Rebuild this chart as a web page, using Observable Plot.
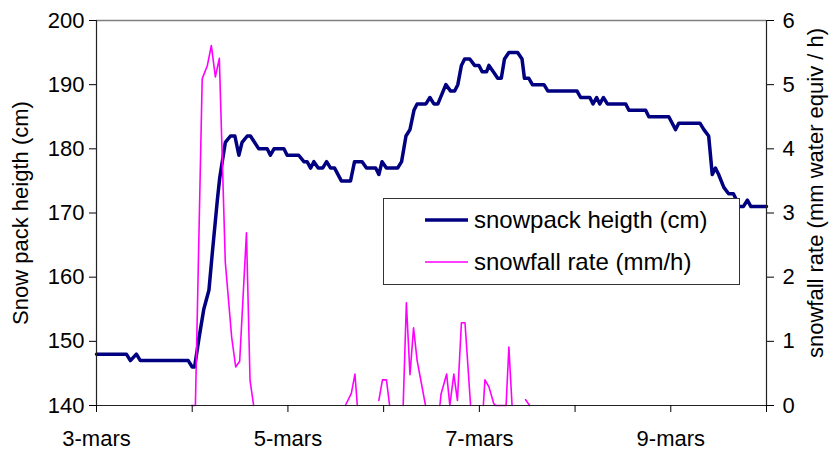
<!DOCTYPE html>
<html>
<head>
<meta charset="utf-8">
<script src="https://cdn.jsdelivr.net/npm/d3@7"></script>
<script src="https://cdn.jsdelivr.net/npm/@observablehq/plot@0.6"></script>
<style>
  html, body { margin: 0; padding: 0; background: white; }
  #wrap { position: relative; width: 833px; height: 453px; font-family: "Liberation Sans", Arial, sans-serif; }
  #legend { position: absolute; left: 383px; top: 198px; width: 355px; height: 85px; background: white; border: 1px solid #333; }
  #legend svg { position: absolute; left: 0; top: 0; }
</style>
</head>
<body>
<div id="wrap"></div>
<script>
// hours since 3-mars 00:00
const snowHours = [
  0, 7.5, 8.5, 10, 11, 23, 24, 24.6,
  25.7, 26.9, 28.2, 29, 30.3, 30.9, 32.3, 33.6, 34.7, 35.7, 36.5, 37.8, 38.6,
  40.7, 42.8, 43.6, 44.5, 47, 47.8, 50.7,
  52, 52.8, 53.7, 54.5, 55.6, 56.7, 57.7, 58.7, 59.7, 61.4, 63.7, 64.7, 66.6, 67.7, 70, 70.8, 71.6, 72.7, 75.5, 76.5,
  77.6, 78.6, 79.6, 80.4, 82.6, 83.6, 84.6, 85.6, 87.6, 88.8, 89.8, 90.6, 91.5, 92.3, 93.6, 94.8, 95.9, 96.7, 97.8, 98.4, 99.5, 100.6, 101.5, 102.3, 103.4, 105.6, 106.7, 107.3, 108.4, 109.3,
  112.2, 113.2, 120.5, 121.4, 123.7, 124.5, 125.4, 126.2, 127.1, 128.1, 132.7, 133.5, 137.7, 138.5, 143.5, 145.2, 146, 151.3, 152.3, 153.5,
  154.4, 155.2, 156, 157.3, 158.5, 159.7, 160.5, 161.1, 162.2, 163.2, 164.1, 168
];
const snowCm = [
  148, 148, 147, 148, 147, 147, 146, 146,
  150.5, 155, 158, 163.5, 172, 175.5, 181, 182, 182, 179, 181, 182, 182,
  180, 180, 179, 180, 180, 179, 179,
  178, 178, 177, 178, 177, 177, 178, 177, 177, 175, 175, 178, 178, 177, 177, 176, 178, 177, 177, 178,
  182, 183, 186, 187, 187, 188, 187, 187, 190, 189, 189, 190, 193, 194, 194, 193, 193, 192, 192, 193, 192, 191, 191, 194, 195, 195, 194, 191, 191, 190,
  190, 189, 189, 188, 188, 187, 188, 187, 188, 187, 187, 186, 186, 185, 185, 183, 184, 184, 183, 182,
  176, 177, 176, 174, 173, 173, 172, 171, 171, 172, 171, 171
];
const rateHours = [
  23.8, 24.8, 26.5, 27.8, 28.8, 29.8, 30.8, 32.3, 33.9, 34.9, 35.9, 37.6, 38.5, 39.4,
  50,
  62.4, 63.9, 64.8, 65.4,
  68,
  70.8, 71.7, 72.7, 73.5,
  75,
  76.9, 77.7, 78.6, 79.5, 80.4, 82.5,
  84,
  86.1, 86.4, 87.8, 88.6, 89.6, 90.5, 91.5, 92.4, 93.8,
  95,
  97.0, 97.4, 98.4, 99.6, 100.1, 102.7, 103.4, 104.2,
  106,
  107.6, 108.6
];
const rateMm = [
  0, 0, 5.09, 5.3, 5.61, 5.12, 5.41, 2.23, 1.06, 0.6, 0.69, 2.69, 0.39, 0,
  null,
  0, 0.19, 0.49, 0,
  null,
  0.08, 0.4, 0.4, 0,
  null,
  0, 1.6, 0.48, 1.21, 0.7, 0,
  null,
  0, 0.18, 0.49, 0, 0.49, 0.08, 1.29, 1.29, 0,
  null,
  0, 0.4, 0.29, 0.03, 0, 0, 0.91, 0,
  null,
  0.09, 0
];
const leftTicks = [140, 150, 160, 170, 180, 190, 200];
const rightTicks = [0, 1, 2, 3, 4, 5, 6];
const dayTicks = [0, 24, 48, 72, 96, 120, 144, 168];
const dayLabels = ["3-mars", "", "5-mars", "", "7-mars", "", "9-mars", ""];
const seriesNames = ["snowpack heigth (cm)", "snowfall rate (mm/h)"];
const leftTitle = "Snow pack heigth (cm)";
const rightTitle = "snowfall rate (mm water equiv / h)";

const toLeft = r => 140 + r * 10;
const snow = snowHours.map((h, i) => ({h, v: snowCm[i]}));
const rate = rateHours.map((h, i) => ({h, v: rateMm[i] == null ? NaN : toLeft(rateMm[i])}));

const chart = Plot.plot({
  width: 833, height: 453,
  marginLeft: 96, marginRight: 67, marginTop: 20, marginBottom: 48,
  style: {fontFamily: '"Liberation Sans", Arial, sans-serif', fontSize: "22px", color: "black", background: "white", overflow: "visible"},
  x: {domain: [0, 168]},
  y: {domain: [140, 200]},
  marks: [
    Plot.ruleY([200], {stroke: "#808080", strokeWidth: 1.5}),
    Plot.line(snow, {x: "h", y: "v", stroke: "#000080", strokeWidth: 3.5, strokeLinejoin: "round"}),
    Plot.line(rate, {x: "h", y: "v", stroke: "#FF00FF", strokeWidth: 1.6}),
    Plot.ruleX([0], {stroke: "#222", strokeWidth: 1.2}),
    Plot.ruleX([168], {stroke: "#222", strokeWidth: 1.2}),
    Plot.ruleY([140], {stroke: "#222", strokeWidth: 1.2}),
    Plot.axisY({anchor: "left", ticks: leftTicks, tickSize: 7, tickPadding: 5, label: null, fontSize: 22}),
    Plot.axisY({anchor: "right", ticks: rightTicks.map(toLeft), tickFormat: d => String((d - 140) / 10), tickSize: 7, tickPadding: 9, label: null, fontSize: 22}),
    Plot.axisX({ticks: dayTicks, tickFormat: d => dayLabels[dayTicks.indexOf(d)], tickSize: 7, tickPadding: 18, label: null, fontSize: 22}),
    Plot.text([leftTitle], {frameAnchor: "left", dx: -76, rotate: -90, fontSize: 22, textAnchor: "middle"}),
    Plot.text([rightTitle], {frameAnchor: "right", dx: 49, dy: -20, rotate: -90, fontSize: 22, textAnchor: "middle"})
  ]
});

const wrap = document.getElementById("wrap");
wrap.appendChild(chart);

// legend inside the plot area
const leg = document.createElement("div");
leg.id = "legend";
const ns = "http://www.w3.org/2000/svg";
const ls = document.createElementNS(ns, "svg");
ls.setAttribute("width", 355); ls.setAttribute("height", 85);
const styles = [{stroke: "#000080", w: 3.5, y: 21}, {stroke: "#FF00FF", w: 1.6, y: 63}];
seriesNames.forEach((name, i) => {
  const s = styles[i];
  const ln = document.createElementNS(ns, "line");
  ln.setAttribute("x1", 41); ln.setAttribute("x2", 84);
  ln.setAttribute("y1", s.y); ln.setAttribute("y2", s.y);
  ln.setAttribute("stroke", s.stroke); ln.setAttribute("stroke-width", s.w);
  ls.appendChild(ln);
  const t = document.createElementNS(ns, "text");
  t.setAttribute("x", 90); t.setAttribute("y", s.y);
  t.setAttribute("dy", "0.35em");
  t.setAttribute("font-size", "24px");
  t.setAttribute("font-family", '"Liberation Sans", Arial, sans-serif');
  t.textContent = name;
  ls.appendChild(t);
});
leg.appendChild(ls);
wrap.appendChild(leg);
</script>
</body>
</html>
